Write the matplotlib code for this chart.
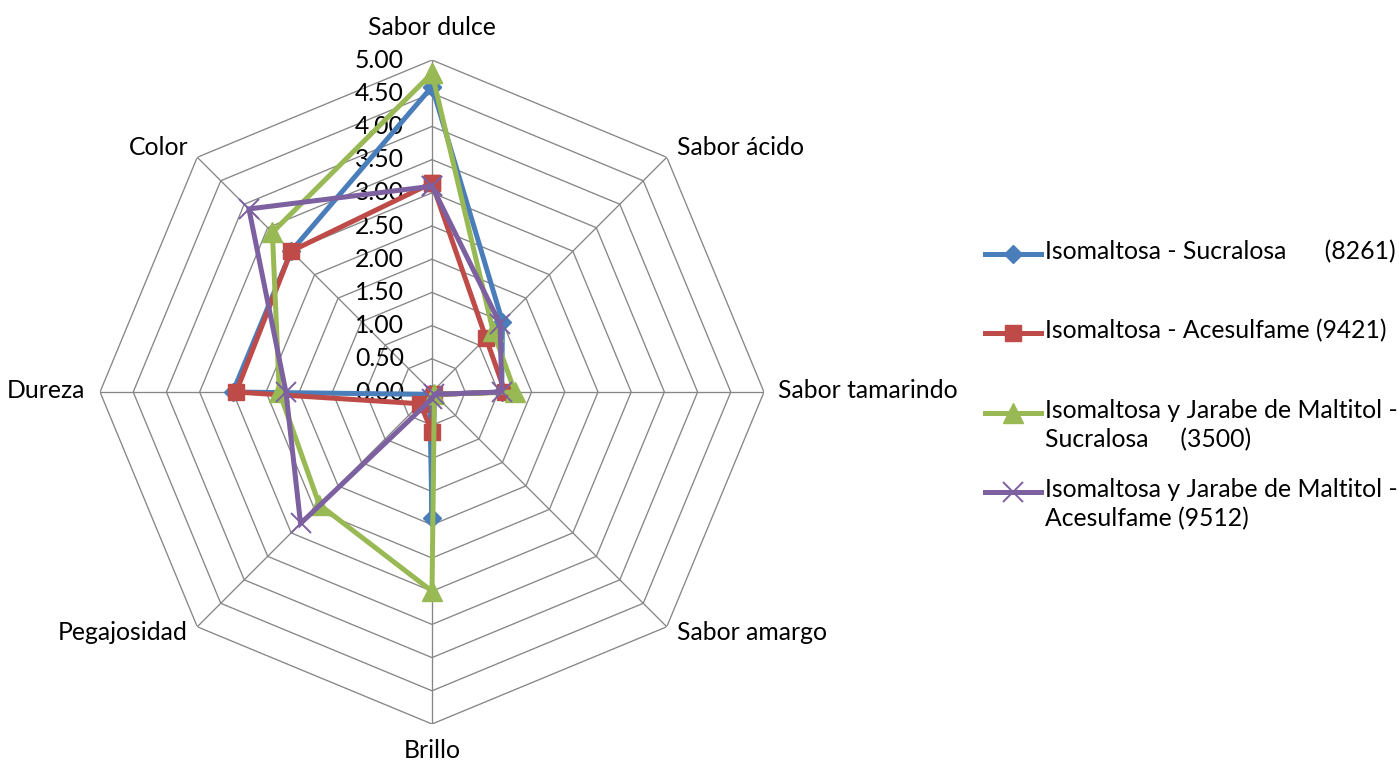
import numpy as np
import matplotlib.pyplot as plt
from matplotlib.lines import Line2D

plt.rcParams['font.family'] = ['Lato', 'DejaVu Sans']

# atributos sensoriales, en sentido horario desde arriba
atributos = ['Sabor dulce', 'Sabor ácido', 'Sabor tamarindo', 'Sabor amargo',
             'Brillo', 'Pegajosidad', 'Dureza', 'Color']

# puntajes medios por formulación
iso_sucralosa = [4.60, 1.50, 1.05, 0.05, 1.90, 0.05, 3.00, 3.00]
iso_acesulfame = [3.15, 1.15, 1.10, 0.05, 0.60, 0.25, 2.95, 3.00]
iso_maltitol_sucralosa = [4.80, 1.30, 1.25, 0.05, 3.00, 2.40, 2.30, 3.40]
iso_maltitol_acesulfame = [3.10, 1.45, 1.05, 0.05, 0.10, 2.80, 2.20, 3.90]

etiquetas = ['Isomaltosa - Sucralosa      (8261)',
             'Isomaltosa - Acesulfame (9421)',
             'Isomaltosa y Jarabe de Maltitol -\nSucralosa     (3500)',
             'Isomaltosa y Jarabe de Maltitol -\nAcesulfame (9512)']

niveles = np.arange(0.5, 5.01, 0.5)

series = [iso_sucralosa, iso_acesulfame, iso_maltitol_sucralosa, iso_maltitol_acesulfame]
colores = ['#4A7EBB', '#BE4B48', '#98B954', '#7D60A0']
estilos = [dict(marker='D', ms=9),
           dict(marker='s', ms=12),
           dict(marker='^', ms=14),
           dict(marker='x', ms=14, mew=1.4)]

FS = 17.8
GRIS = '#868686'

fig = plt.figure(figsize=(13.99, 7.61), dpi=100)
ax = fig.add_axes([0.0715, 0.0486, 0.4746, 0.8725], projection='polar')
ax.set_theta_zero_location('N')
ax.set_theta_direction(-1)
ax.set_ylim(0, 5)
ax.grid(False)
ax.spines['polar'].set_visible(False)
ax.patch.set_visible(False)
ax.set_xticks([])
ax.set_yticks([])

n = len(atributos)
ang = np.linspace(0, 2 * np.pi, n, endpoint=False)
ang_c = np.append(ang, ang[0])

# rejilla poligonal tipo Excel
for r in niveles:
    ax.plot(ang_c, [r] * (n + 1), color=GRIS, lw=0.95, zorder=1)
for a in ang:
    ax.plot([a, a], [0, 5], color=GRIS, lw=0.95, zorder=1)

# valores del eje radial
for r in np.append(0, niveles):
    ax.annotate(f'{r:.2f}', xy=(0, r), xytext=(-28, 0), textcoords='offset pixels',
                ha='right', va='center', fontsize=FS, zorder=2)

# nombres de los atributos
desplaz = [(0, 33, 'center'), (10, 10, 'left'), (14, 2, 'left'), (10, -6, 'left'),
           (0, -26, 'center'), (-10, -6, 'right'), (-15, 2, 'right'), (-9, 10, 'right')]
for a, nombre, (dx, dy, ha) in zip(ang, atributos, desplaz):
    ax.annotate(nombre, xy=(a, 5), xytext=(dx, dy), textcoords='offset pixels',
                ha=ha, va='center', fontsize=FS, annotation_clip=False)

for i, (vals, c, st) in enumerate(zip(series, colores, estilos)):
    v = np.append(vals, vals[0])
    ax.plot(ang_c, v, color=c, lw=3.6, mfc=c, mec=c, zorder=3 + i,
            solid_joinstyle='miter', clip_on=False, **st)

# leyenda a la derecha, entradas con separación uniforme
lax = fig.add_axes([0, 0, 1, 1])
lax.set_xlim(0, 1399)
lax.set_ylim(761, 0)
lax.axis('off')
y0, paso = 254, 79.3
for i, (lab, c, st) in enumerate(zip(etiquetas, colores, estilos)):
    y = y0 + i * paso
    lax.add_line(Line2D([985, 1041], [y, y], color=c, lw=3.6))
    lax.add_line(Line2D([1013], [y], color=c, mfc=c, mec=c, **st))
    lax.text(1045, y - 14, lab, ha='left', va='top', fontsize=FS, linespacing=1.32)

fig.savefig('out.png', dpi=100)
